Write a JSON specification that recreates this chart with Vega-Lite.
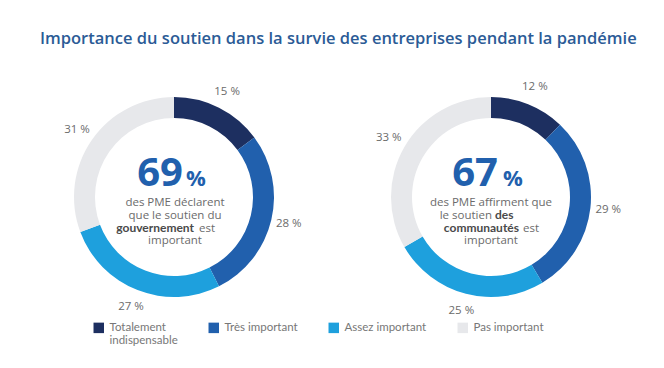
{
  "$schema": "https://vega.github.io/schema/vega-lite/v6.json",
  "padding": {"left": 40, "top": 30, "right": 0, "bottom": 0},
  "background": "white",
  "title": {"text": "Importance du soutien dans la survie des entreprises pendant la pandémie", "anchor": "start", "font": "Open Sans", "fontSize": 16.5, "fontWeight": 600, "color": "#2b5b96", "offset": 34},
  "config": {"view": {"stroke": null}, "font": "Open Sans"},
  "spacing": 49,
  "hconcat": [
    {
      "width": 268, "height": 210,
      "layer": [
        {
          "data": {"values": [
            {"cat": "Totalement indispensable", "k": 1, "v": 15, "lab": "15 %"},
            {"cat": "Très important", "k": 2, "v": 28, "lab": "28 %"},
            {"cat": "Assez important", "k": 3, "v": 27, "lab": "27 %"},
            {"cat": "Pas important", "k": 4, "v": 31, "lab": "31 %"}
          ]},
          "layer": [
            {
              "mark": {"type": "arc", "outerRadius": 100, "innerRadius": 79},
              "encoding": {
                "theta": {"field": "v", "type": "quantitative", "stack": true},
                "order": {"field": "k", "type": "quantitative"},
                "color": {"field": "cat", "type": "nominal",
                  "scale": {"domain": ["Totalement indispensable", "Très important", "Assez important", "Pas important"], "range": ["#1d2f60", "#2160ad", "#1ea0dd", "#e7e8eb"]},
                  "legend": {"orient": "none", "legendX": 53, "legendY": 230, "direction": "horizontal", "title": null, "symbolType": "square", "symbolSize": 110, "symbolStrokeWidth": 0, "labelFont": "Lato", "labelFontSize": 11.5, "labelColor": "#777777", "columnPadding": 30, "labelOffset": 5, "labelExpr": "datum.label == 'Totalement indispensable' ? ['Totalement', 'indispensable'] : [datum.label, ' ']", "labelBaseline": "middle"}
                }
              }
            },
            {
              "mark": {"type": "text", "radius": 118, "font": "Open Sans", "fontSize": 11.5, "color": "#6b6b6b"},
              "encoding": {
                "theta": {"field": "v", "type": "quantitative", "stack": true},
                "order": {"field": "k", "type": "quantitative"},
                "detail": {"field": "cat"},
                "text": {"field": "lab"}
              }
            }
          ]
        },
        {"data": {"values": [{"t": "69"}]}, "mark": {"type": "text", "align": "right", "baseline": "alphabetic", "dx": 9, "dy": -11, "fontSize": 40, "fontWeight": 700, "color": "#2160ad"}, "encoding": {"text": {"field": "t"}}},
        {"data": {"values": [{"t": "%"}]}, "mark": {"type": "text", "align": "left", "baseline": "alphabetic", "dx": 12, "dy": -11, "fontSize": 22, "fontWeight": 700, "color": "#2160ad"}, "encoding": {"text": {"field": "t"}}},
        {"data": {"values": [{"t": "des PME déclarent"}]}, "mark": {"type": "text", "align": "center", "baseline": "alphabetic", "dx": 1, "dy": 9, "fontSize": 11.5, "color": "#6b6b6b"}, "encoding": {"text": {"field": "t"}}},
        {"data": {"values": [{"t": "que le soutien du"}]}, "mark": {"type": "text", "align": "center", "baseline": "alphabetic", "dx": 1, "dy": 22, "fontSize": 11.5, "color": "#6b6b6b"}, "encoding": {"text": {"field": "t"}}},
        {"data": {"values": [{"t": "gouvernement"}]}, "mark": {"type": "text", "align": "right", "baseline": "alphabetic", "dx": 20, "dy": 35, "font": "Lato", "fontSize": 12, "fontWeight": 700, "color": "#4a4a4a"}, "encoding": {"text": {"field": "t"}}},
        {"data": {"values": [{"t": "est"}]}, "mark": {"type": "text", "align": "left", "baseline": "alphabetic", "dx": 25, "dy": 35, "fontSize": 11.5, "color": "#6b6b6b"}, "encoding": {"text": {"field": "t"}}},
        {"data": {"values": [{"t": "important"}]}, "mark": {"type": "text", "align": "center", "baseline": "alphabetic", "dx": 1, "dy": 47, "fontSize": 11.5, "color": "#6b6b6b"}, "encoding": {"text": {"field": "t"}}}
      ]
    },
    {
      "width": 268, "height": 210,
      "layer": [
        {
          "data": {"values": [
            {"cat": "Totalement indispensable", "k": 1, "v": 12, "lab": "12 %"},
            {"cat": "Très important", "k": 2, "v": 29, "lab": "29 %"},
            {"cat": "Assez important", "k": 3, "v": 25, "lab": "25 %"},
            {"cat": "Pas important", "k": 4, "v": 33, "lab": "33 %"}
          ]},
          "layer": [
            {
              "mark": {"type": "arc", "outerRadius": 100, "innerRadius": 79},
              "encoding": {
                "theta": {"field": "v", "type": "quantitative", "stack": true},
                "order": {"field": "k", "type": "quantitative"},
                "color": {"field": "cat", "type": "nominal"}
              }
            },
            {
              "mark": {"type": "text", "radius": 118, "font": "Open Sans", "fontSize": 11.5, "color": "#6b6b6b"},
              "encoding": {
                "theta": {"field": "v", "type": "quantitative", "stack": true},
                "order": {"field": "k", "type": "quantitative"},
                "detail": {"field": "cat"},
                "text": {"field": "lab"}
              }
            }
          ]
        },
        {"data": {"values": [{"t": "67"}]}, "mark": {"type": "text", "align": "right", "baseline": "alphabetic", "dx": 7, "dy": -11, "fontSize": 40, "fontWeight": 700, "color": "#2160ad"}, "encoding": {"text": {"field": "t"}}},
        {"data": {"values": [{"t": "%"}]}, "mark": {"type": "text", "align": "left", "baseline": "alphabetic", "dx": 12, "dy": -11, "fontSize": 22, "fontWeight": 700, "color": "#2160ad"}, "encoding": {"text": {"field": "t"}}},
        {"data": {"values": [{"t": "des PME affirment que"}]}, "mark": {"type": "text", "align": "center", "baseline": "alphabetic", "dx": 0, "dy": 9, "fontSize": 11.5, "color": "#6b6b6b"}, "encoding": {"text": {"field": "t"}}},
        {"data": {"values": [{"t": "le soutien"}]}, "mark": {"type": "text", "align": "right", "baseline": "alphabetic", "dx": 1, "dy": 22, "fontSize": 11.5, "color": "#6b6b6b"}, "encoding": {"text": {"field": "t"}}},
        {"data": {"values": [{"t": "des"}]}, "mark": {"type": "text", "align": "left", "baseline": "alphabetic", "dx": 4, "dy": 22, "font": "Lato", "fontSize": 12, "fontWeight": 700, "color": "#4a4a4a"}, "encoding": {"text": {"field": "t"}}},
        {"data": {"values": [{"t": "communautés"}]}, "mark": {"type": "text", "align": "right", "baseline": "alphabetic", "dx": 28, "dy": 35, "font": "Lato", "fontSize": 12, "fontWeight": 700, "color": "#4a4a4a"}, "encoding": {"text": {"field": "t"}}},
        {"data": {"values": [{"t": "est"}]}, "mark": {"type": "text", "align": "left", "baseline": "alphabetic", "dx": 32, "dy": 35, "fontSize": 11.5, "color": "#6b6b6b"}, "encoding": {"text": {"field": "t"}}},
        {"data": {"values": [{"t": "important"}]}, "mark": {"type": "text", "align": "center", "baseline": "alphabetic", "dx": 0, "dy": 47, "fontSize": 11.5, "color": "#6b6b6b"}, "encoding": {"text": {"field": "t"}}}
      ]
    }
  ]
}
